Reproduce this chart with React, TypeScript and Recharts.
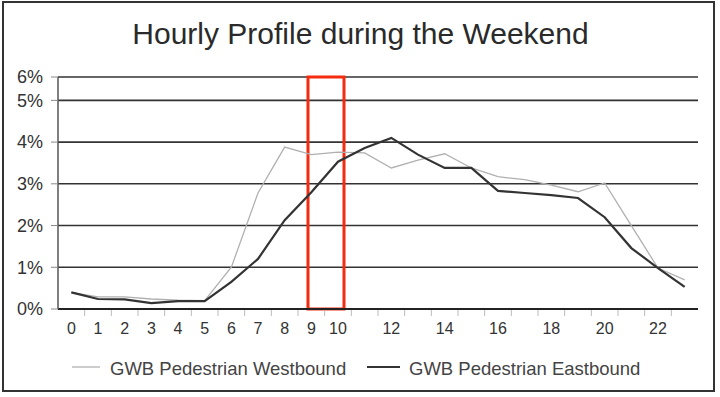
import { LineChart, Line, XAxis, YAxis, CartesianGrid, ReferenceArea, Legend } from 'recharts';

// hour of day (weekend), share of daily pedestrian volume in %
const hours = [0, 1, 2, 3, 4, 5, 6, 7, 8, 9, 10, 11, 12, 13, 14, 15, 16, 17, 18, 19, 20, 21, 22, 23];
const westbound = [0.4, 0.29, 0.29, 0.24, 0.21, 0.2, 1.0, 2.78, 3.88, 3.7, 3.76, 3.74, 3.38, 3.57, 3.72, 3.38, 3.17, 3.1, 2.97, 2.81, 3.02, 2.0, 0.98, 0.7];
const eastbound = [0.4, 0.24, 0.23, 0.14, 0.19, 0.19, 0.65, 1.2, 2.13, 2.8, 3.53, 3.86, 4.1, 3.7, 3.38, 3.38, 2.83, 2.78, 2.73, 2.66, 2.2, 1.46, 0.98, 0.53];
const seriesNames = ['GWB Pedestrian Westbound', 'GWB Pedestrian Eastbound'];

const xTickLabels = [0, 1, 2, 3, 4, 5, 6, 7, 8, 9, 10, 12, 14, 16, 18, 20, 22];
const yTicks = [0, 1, 2, 3, 4, 5, 5.56];
const yTickLabels = ['0%', '1%', '2%', '3%', '4%', '5%', '6%'];
// red box drawn around the 9-10 am hours
const highlightHours = [8.875, 10.225];

const data = hours.map((h, i) => ({ hour: h, west: westbound[i], east: eastbound[i] }));
// small marks between the hours on the x axis
const hourEdges = hours.slice(0, -1).map((h) => h + 0.5);
const xTicks = [...xTickLabels, ...hourEdges].sort((a, b) => a - b);

const FONT = "'Liberation Sans', Arial, sans-serif";

function HourTick({ x, y, payload }: any) {
  const v = payload.value;
  if (!Number.isInteger(v)) {
    return <line x1={x} x2={x} y1={y + 1} y2={y + 7} stroke="#bbb" strokeWidth={1} />;
  }
  return (
    <text x={x} y={y + 14} dy="0.71em" textAnchor="middle" fontFamily={FONT} fontSize={16} fill="#333">
      {v}
    </text>
  );
}

const legendSpots = [
  { line: 72, len: 28, text: 110 },
  { line: 367, len: 33, text: 409 },
];

function LegendContent({ payload }: any) {
  const items = seriesNames
    .map((n) => (payload || []).find((p: any) => p.value === n))
    .filter(Boolean);
  return (
    <svg width={720} height={32} style={{ display: 'block' }}>
      {items.map((p: any, i: number) => {
        const s = legendSpots[i];
        return (
          <g key={p.value}>
            <line x1={s.line} x2={s.line + s.len} y1={15} y2={15} stroke={p.color} strokeWidth={i === 0 ? 1.3 : 2} />
            <text x={s.text} y={23} fontFamily={FONT} fontSize={18.5} fill="#444">
              {p.value}
            </text>
          </g>
        );
      })}
    </svg>
  );
}

export default function App() {
  return (
    <div style={{ position: 'relative', width: 720, height: 397, background: '#fff', overflow: 'hidden' }}>
      <style>{'body{margin:0}'}</style>
      <div
        style={{
          position: 'absolute',
          left: 2,
          top: 1,
          width: 709,
          height: 387,
          border: '2px solid #333',
        }}
      />
      <div
        style={{
          position: 'absolute',
          top: 19,
          left: 0,
          width: 721,
          textAlign: 'center',
          fontFamily: FONT,
          fontSize: 30,
          lineHeight: '30px',
          color: '#2a2a2a',
        }}
      >
        Hourly Profile during the Weekend
      </div>
      <div style={{ position: 'absolute', left: 0, top: 0 }}>
        <LineChart width={720} height={397} data={data} margin={{ top: 77, right: 22, bottom: 58, left: 0 }}>
          <CartesianGrid vertical={false} stroke="#333" strokeWidth={1.6} />
          <XAxis
            dataKey="hour"
            type="number"
            domain={[-0.5, 23.5]}
            ticks={xTicks}
            interval={0}
            tick={<HourTick />}
            tickLine={false}
            tickSize={0}
            tickMargin={0}
            height={30}
            axisLine={{ stroke: '#222', strokeWidth: 2 }}
          />
          <YAxis
            domain={[0, 5.56]}
            ticks={yTicks}
            interval={0}
            width={58}
            tickSize={7}
            tickMargin={8}
            tickLine={{ stroke: '#888' }}
            axisLine={{ stroke: '#555', strokeWidth: 1.5 }}
            tickFormatter={(_v: number, i: number) => yTickLabels[i]}
            tick={{ fontFamily: FONT, fontSize: 18, fill: '#333' }}
          />
          <Line
            dataKey="west"
            name={seriesNames[0]}
            stroke="#b0b0b0"
            strokeWidth={1.3}
            dot={false}
            isAnimationActive={false}
          />
          <Line
            dataKey="east"
            name={seriesNames[1]}
            stroke="#333"
            strokeWidth={2.2}
            dot={false}
            isAnimationActive={false}
          />
          <ReferenceArea
            x1={highlightHours[0]}
            x2={highlightHours[1]}
            fill="none"
            stroke="#f52a0f"
            strokeWidth={3}
          />
          <Legend
            verticalAlign="middle"
            align="center"
            layout="horizontal"
            wrapperStyle={{ top: 352, left: 0, width: 720, height: 32 }}
            content={<LegendContent />}
          />
        </LineChart>
      </div>
    </div>
  );
}
